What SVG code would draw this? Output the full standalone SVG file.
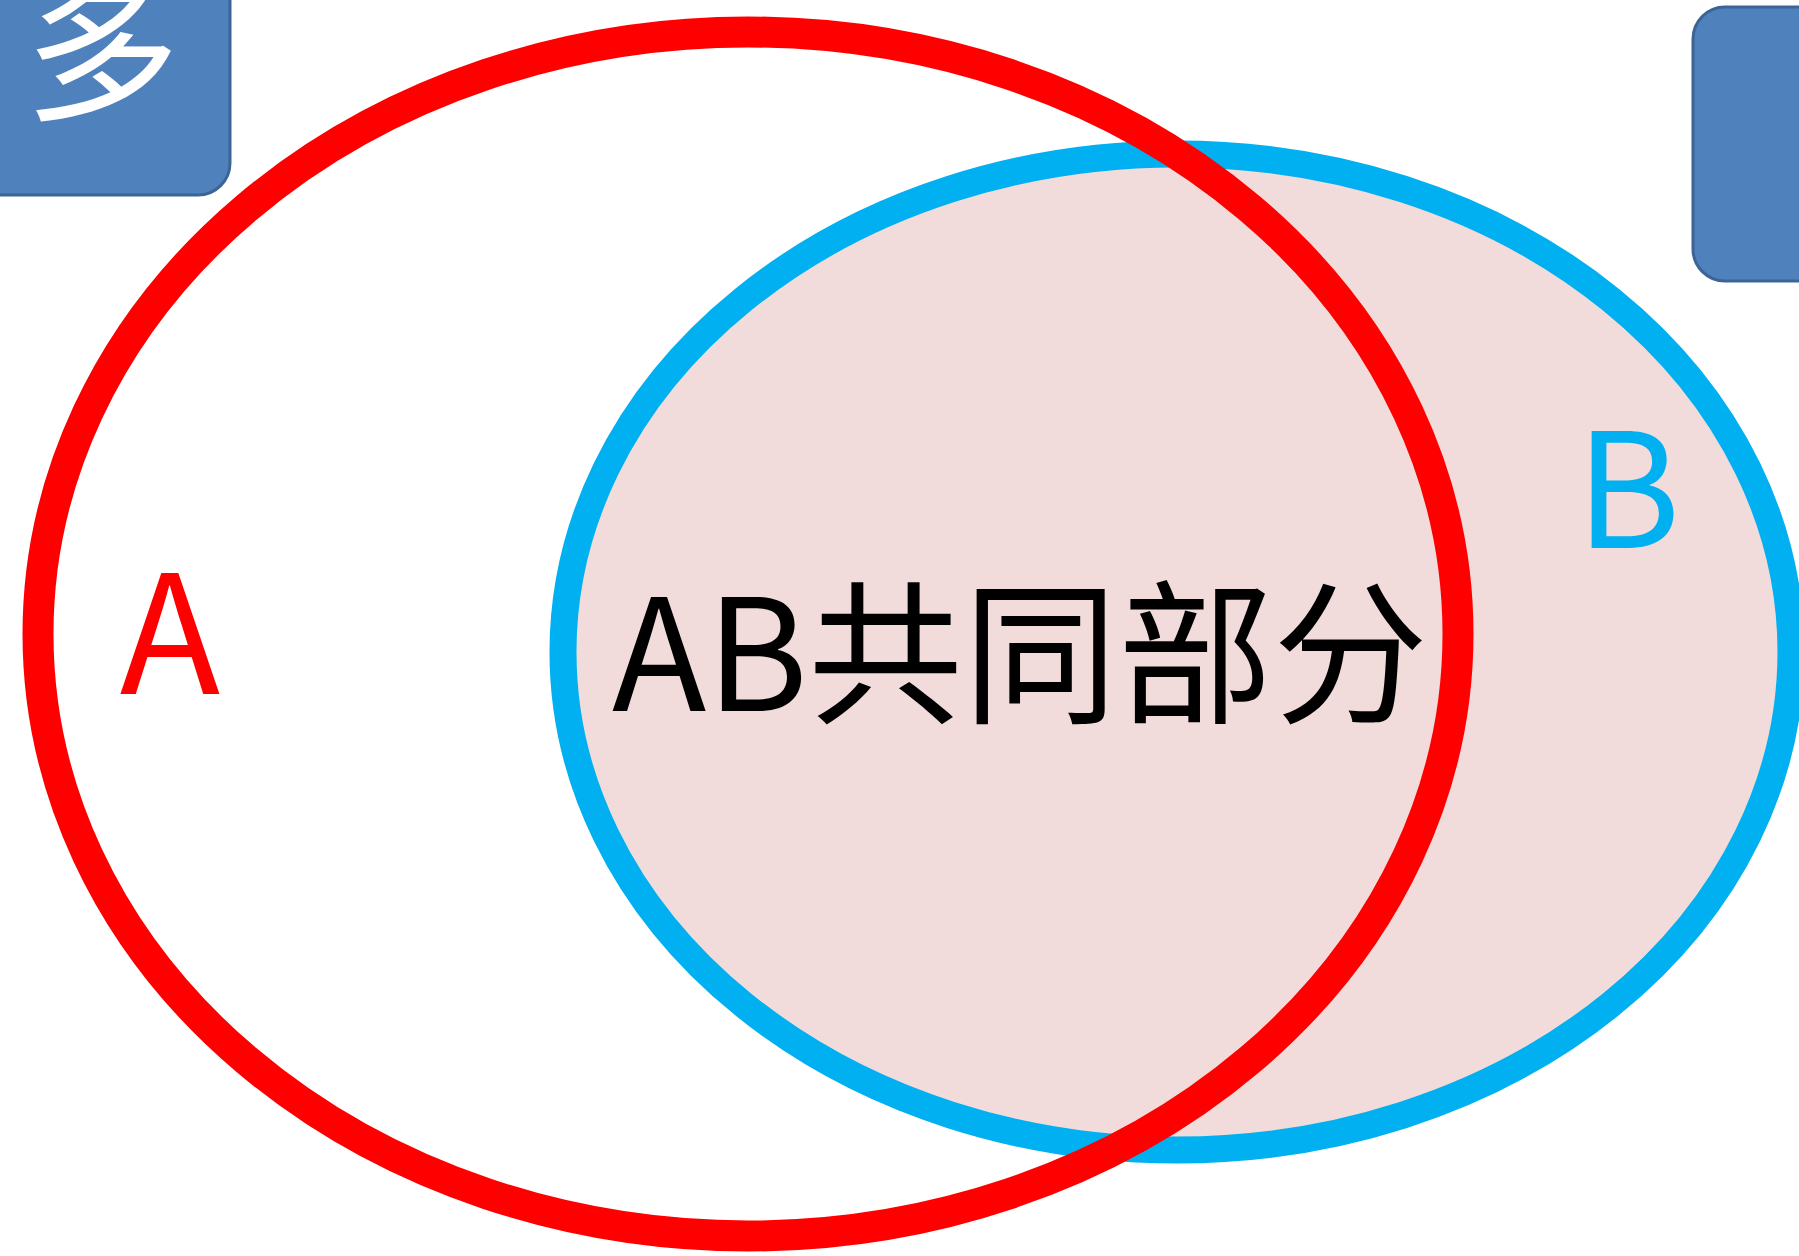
<svg xmlns="http://www.w3.org/2000/svg" width="1799" height="1256" viewBox="0 0 1799 1256">
  <style>
    .box { fill: #4F81BD; stroke: #3A6596; stroke-width: 3; }
    .lbl { font-family: "Noto Sans CJK SC", "Noto Sans", sans-serif; font-weight: 400; }
  </style>
  <rect x="0" y="0" width="1799" height="1256" fill="#FFFFFF"/>
  <g id="box-left">
    <rect class="box" x="-40" y="-40" width="270" height="235" rx="32" ry="32"/>
    <text class="lbl" x="102" y="108" font-size="155" fill="#FFFFFF" text-anchor="middle">多</text>
  </g>
  <g id="box-right">
    <rect class="box" x="1693" y="7" width="160" height="274" rx="32" ry="32"/>
  </g>
  <g id="set-B">
    <ellipse cx="1177" cy="652" rx="614" ry="498" fill="#F2DCDB" stroke="#00B0F0" stroke-width="27"/>
    <text class="lbl" x="1628" y="548" font-size="160" fill="#00B0F0" text-anchor="middle">B</text>
  </g>
  <g id="set-A">
    <ellipse cx="748" cy="634" rx="710" ry="602" fill="none" stroke="#FF0000" stroke-width="31"/>
    <text class="lbl" x="170" y="694" font-size="165" fill="#FF0000" text-anchor="middle">A</text>
  </g>
  <g id="intersection">
    <text class="lbl" x="1020" y="711" font-size="155" fill="#000000" text-anchor="middle">AB共同部分</text>
  </g>
</svg>
